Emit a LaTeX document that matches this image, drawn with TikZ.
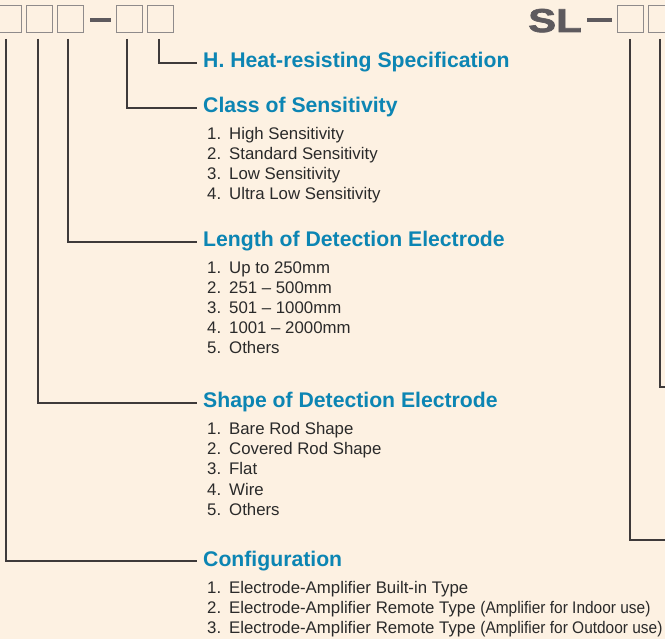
\documentclass[tikz,border=0pt]{standalone}
\usepackage{fontspec}
\setmainfont{Liberation Sans}
\newfontfamily\narrowfont[FakeStretch=0.92]{Liberation Sans}
\newfontfamily\slfont[FakeStretch=1.27,FakeBold=2]{Liberation Sans}
\definecolor{bgcol}{HTML}{FDF1E2}
\definecolor{headcol}{HTML}{0C85B3}
\definecolor{itemcol}{HTML}{2A2A2A}
\definecolor{boxcol}{HTML}{8F8B8B}
\definecolor{conncol}{HTML}{3E3A3A}
\definecolor{slcol}{HTML}{5E5A5E}
\begin{document}
\begin{tikzpicture}[x=1pt,y=-1pt,
  codebox/.style={draw=boxcol,line width=1.4pt,minimum width=26.5pt,minimum height=26.5pt,inner sep=0pt},
  dashbar/.style={fill=slcol,minimum width=21pt,minimum height=4pt,inner sep=0pt},
  conn/.style={draw=conncol,line width=1.1pt},
  heading/.style={anchor=west,inner xsep=6pt,inner ysep=0pt,text height=15pt,text depth=5pt,
    text=headcol,font=\bfseries\fontsize{21.2}{24}\selectfont},
  item/.style={anchor=base west,inner sep=0pt,text=itemcol,font=\fontsize{16.8}{20}\selectfont}]
\useasboundingbox (0,0) rectangle (665,639);
\fill[bgcol] (0,0) rectangle (665,639);
% code boxes
\node[codebox] (b1) at (8.5,19) {};
\node[codebox] (b2) at (39.5,19) {};
\node[codebox] (b3) at (70.5,19) {};
\node[dashbar] (d1) at (100.5,20) {};
\node[codebox] (b4) at (129.5,19) {};
\node[codebox] (b5) at (160.5,19) {};
\node[anchor=base west,inner sep=0pt,text=slcol,font=\slfont\bfseries\fontsize{33}{36}\selectfont] (sl) at (528,32) {SL};
\node[dashbar,minimum width=25pt] (d2) at (599.5,20) {};
\node[codebox] (b6) at (630.5,19) {};
\node[codebox] (b7) at (661.5,19) {};
% vertical starts
\coordinate (v1) at (6,39);
\coordinate (v2) at (38,39);
\coordinate (v3) at (68,39);
\coordinate (v4) at (127,39);
\coordinate (v5) at (159,39);
\coordinate (r1) at (630,39);
\coordinate (r2) at (660,39);
\coordinate (r1e) at (667,540);
\coordinate (r2e) at (667,387);
% headings
\node[heading] (hH) at (197,63) {H. Heat-resisting Specification};
\node[heading] (hC) at (197,108) {Class of Sensitivity};
\node[heading] (hL) at (197,242) {Length of Detection Electrode};
\node[heading] (hS) at (197,403) {Shape of Detection Electrode};
\node[heading] (hK) at (197,561) {Configuration};
% connectors
\draw[conn] (v5) |- (hH.west);
\draw[conn] (v4) |- (hC.west);
\draw[conn] (v3) |- (hL.west);
\draw[conn] (v2) |- (hS.west);
\draw[conn] (v1) |- (hK.west);
\draw[conn] (r1) |- (r1e);
\draw[conn] (r2) |- (r2e);
% items
\foreach \t [count=\i] in {High Sensitivity, Standard Sensitivity, Low Sensitivity, Ultra Low Sensitivity}
  \node[item] (c\i) at (207,{140+20*(\i-1)}) {\makebox[22pt][l]{\i.}\t};
\foreach \t [count=\i] in {Up to 250mm, 251 – 500mm, 501 – 1000mm, 1001 – 2000mm, Others}
  \node[item] (l\i) at (207,{274+20*(\i-1)}) {\makebox[22pt][l]{\i.}\t};
\foreach \t [count=\i] in {Bare Rod Shape, Covered Rod Shape, Flat, Wire, Others}
  \node[item] (s\i) at (207,{435+20*(\i-1)}) {\makebox[22pt][l]{\i.}\t};
\foreach \t [count=\i] in {{Electrode-Amplifier Built-in Type},
    {Electrode-Amplifier Remote Type {\narrowfont(Amplifier for Indoor use)}},
    {Electrode-Amplifier Remote Type {\narrowfont(Amplifier for Outdoor use)}}}
  \node[item] (k\i) at (207,{593+20*(\i-1)}) {\makebox[22pt][l]{\i.}\t};
\end{tikzpicture}
\end{document}
